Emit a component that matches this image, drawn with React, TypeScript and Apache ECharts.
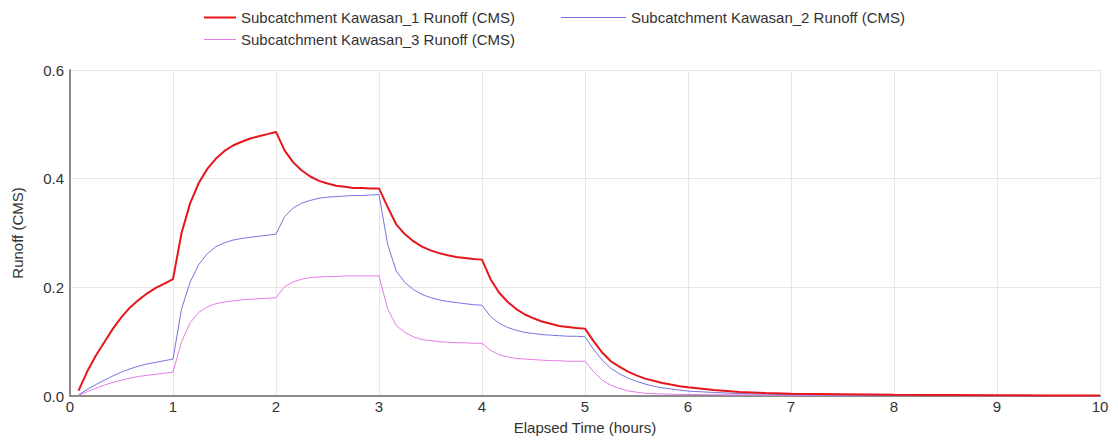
import React, { useEffect, useRef } from "react";
import * as echarts from "echarts";

// Elapsed time (hours) of each reported point
const times = [
  0.083, 0.167, 0.25, 0.333, 0.417, 0.5, 0.583, 0.667, 0.75, 0.833, 0.917, 1.0,
  1.083, 1.167, 1.25, 1.333, 1.417, 1.5, 1.583, 1.667, 1.75, 1.833, 1.917, 2.0,
  2.083, 2.167, 2.25, 2.333, 2.417, 2.5, 2.583, 2.667, 2.75, 2.833, 2.917, 3.0,
  3.083, 3.167, 3.25, 3.333, 3.417, 3.5, 3.583, 3.667, 3.75, 3.833, 3.917, 4.0,
  4.083, 4.167, 4.25, 4.333, 4.417, 4.5, 4.583, 4.667, 4.75, 4.833, 4.917, 5.0,
  5.083, 5.167, 5.25, 5.333, 5.417, 5.5, 5.583, 5.667, 5.75, 5.833, 5.917, 6.0,
  6.25, 6.5, 6.75, 7.0, 7.5, 8.0, 8.5, 9.0, 9.5, 10.0,
];

const kawasan1 = [
  0.010, 0.045, 0.074, 0.099, 0.124, 0.145, 0.163, 0.177, 0.189, 0.199, 0.207, 0.215,
  0.300, 0.355, 0.392, 0.418, 0.437, 0.451, 0.461, 0.468, 0.474, 0.478, 0.482, 0.486,
  0.452, 0.430, 0.415, 0.404, 0.396, 0.391, 0.387, 0.385, 0.383, 0.383, 0.382, 0.382,
  0.348, 0.316, 0.298, 0.285, 0.275, 0.268, 0.263, 0.259, 0.256, 0.254, 0.252, 0.251,
  0.215, 0.190, 0.173, 0.160, 0.150, 0.143, 0.137, 0.133, 0.129, 0.127, 0.125, 0.124,
  0.101, 0.080, 0.064, 0.054, 0.045, 0.038, 0.032, 0.028, 0.024, 0.021, 0.018, 0.016,
  0.011, 0.0075, 0.0055, 0.004, 0.003, 0.0022, 0.0017, 0.0013, 0.001, 0.0008,
];

const kawasan2 = [
  0.002, 0.012, 0.021, 0.029, 0.037, 0.044, 0.050, 0.055, 0.059, 0.062, 0.065, 0.068,
  0.160, 0.210, 0.242, 0.262, 0.275, 0.282, 0.287, 0.290, 0.292, 0.294, 0.296, 0.298,
  0.330, 0.346, 0.355, 0.360, 0.364, 0.366, 0.367, 0.368, 0.369, 0.369, 0.370, 0.371,
  0.280, 0.230, 0.209, 0.196, 0.187, 0.181, 0.177, 0.174, 0.172, 0.170, 0.168, 0.167,
  0.146, 0.134, 0.126, 0.121, 0.117, 0.115, 0.113, 0.112, 0.111, 0.110, 0.110, 0.109,
  0.086, 0.066, 0.051, 0.041, 0.033, 0.027, 0.022, 0.018, 0.015, 0.013, 0.011, 0.009,
  0.0065, 0.0045, 0.0035, 0.0027, 0.002, 0.0015, 0.0012, 0.001, 0.0008, 0.0006,
];

const kawasan3 = [
  0.001, 0.008, 0.014, 0.020, 0.025, 0.029, 0.033, 0.036, 0.038, 0.040, 0.042, 0.044,
  0.100, 0.135, 0.154, 0.164, 0.170, 0.173, 0.175, 0.177, 0.178, 0.179, 0.180, 0.181,
  0.201, 0.210, 0.215, 0.218, 0.219, 0.220, 0.220, 0.221, 0.221, 0.221, 0.221, 0.221,
  0.161, 0.130, 0.117, 0.109, 0.104, 0.102, 0.100, 0.099, 0.098, 0.098, 0.097, 0.097,
  0.084, 0.076, 0.072, 0.069, 0.068, 0.067, 0.066, 0.065, 0.065, 0.064, 0.064, 0.064,
  0.045, 0.029, 0.020, 0.014, 0.0095, 0.007, 0.005, 0.0042, 0.0037, 0.0033, 0.003, 0.0028,
  0.0024, 0.002, 0.0017, 0.0015, 0.0012, 0.001, 0.0008, 0.0007, 0.0006, 0.0005,
];

const seriesNames = [
  "Subcatchment Kawasan_1 Runoff (CMS)",
  "Subcatchment Kawasan_2 Runoff (CMS)",
  "Subcatchment Kawasan_3 Runoff (CMS)",
];
const seriesColors = ["#e5161c", "#7474dc", "#e47be4"];
const seriesWidths = [2, 1, 1];
const seriesValues = [kawasan1, kawasan2, kawasan3];

const FONT = "'Liberation Sans', Arial, sans-serif";

export default function App() {
  const ref = useRef<HTMLDivElement>(null);
  useEffect(() => {
    if (!ref.current) return;
    const chart = echarts.init(ref.current, undefined, { renderer: "svg" });
    const legendBase = {
      top: 5,
      icon: "rect",
      textStyle: { fontFamily: FONT, fontSize: 15, color: "#333" },
      selectedMode: false,
    };
    chart.setOption({
      animation: false,
      backgroundColor: "#ffffff",
      textStyle: { fontFamily: FONT },
      legend: [
        { ...legendBase, left: 199, itemWidth: 32, itemHeight: 2, data: [seriesNames[0]] },
        { ...legendBase, left: 556, itemWidth: 65, itemHeight: 1, data: [seriesNames[1]] },
        { ...legendBase, left: 199, top: 27, itemWidth: 32, itemHeight: 1, data: [seriesNames[2]] },
      ],
      grid: { left: 70, right: 18, top: 70, bottom: 48, containLabel: false },
      xAxis: {
        type: "value",
        min: 0,
        max: 10,
        interval: 1,
        name: "Elapsed Time (hours)",
        nameLocation: "middle",
        nameGap: 24,
        nameTextStyle: { fontFamily: FONT, fontSize: 15, color: "#333" },
        axisLine: { lineStyle: { color: "#8c8c8c", width: 2 } },
        axisTick: { show: false },
        axisLabel: { fontFamily: FONT, fontSize: 15, color: "#333", margin: 3 },
        splitLine: { show: true, lineStyle: { color: "#e6e6e6", width: 1 } },
      },
      yAxis: {
        type: "value",
        min: 0,
        max: 0.6,
        interval: 0.2,
        name: "Runoff (CMS)",
        nameLocation: "middle",
        nameRotate: 90,
        nameGap: 45,
        nameTextStyle: { fontFamily: FONT, fontSize: 15, color: "#333" },
        axisLine: { show: true, lineStyle: { color: "#8c8c8c", width: 2 } },
        axisTick: { show: false },
        axisLabel: {
          fontFamily: FONT,
          fontSize: 15,
          color: "#333",
          margin: 6,
          formatter: (v: number) => v.toFixed(1),
        },
        splitLine: { show: true, lineStyle: { color: "#e6e6e6", width: 1 } },
      },
      series: seriesNames.map((name, i) => ({
        name,
        type: "line",
        symbol: "none",
        smooth: false,
        color: seriesColors[i],
        lineStyle: { color: seriesColors[i], width: seriesWidths[i] },
        data: times.map((t, k) => [t, seriesValues[i][k]]),
        z: 3 - i,
      })),
    });
    return () => chart.dispose();
  }, []);
  return (
    <div
      ref={ref}
      style={{ position: "absolute", left: 0, top: 0, width: 1118, height: 444 }}
    />
  );
}
